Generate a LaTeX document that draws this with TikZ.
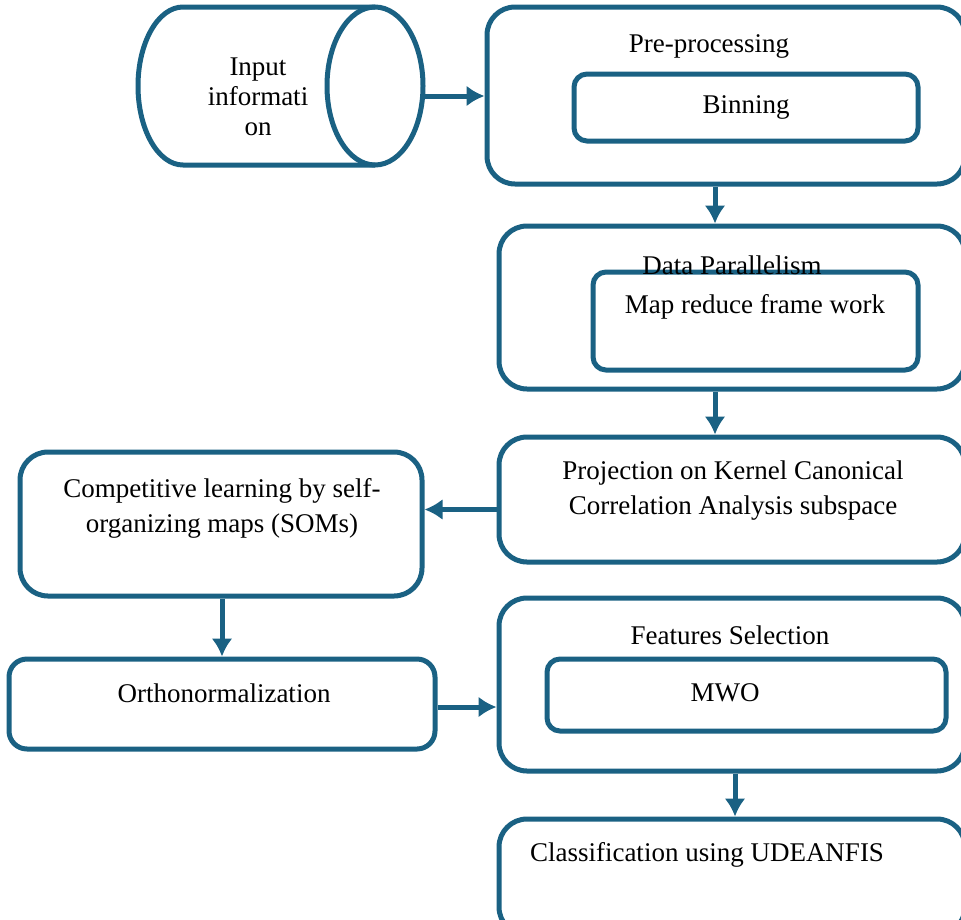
\documentclass[tikz,border=0pt]{standalone}
\usepackage{fontspec}
\setmainfont{Liberation Serif}
\usepackage[rgb]{xcolor}
\usepackage{tikz}
\usetikzlibrary{arrows.meta,positioning}

\definecolor{flowblue}{RGB}{26,97,131}

\begin{document}
\begin{tikzpicture}[x=1pt,y=-1pt,
  outer/.style={draw=flowblue,line width=5pt,rounded corners=28pt,minimum width=466pt},
  inner/.style={draw=flowblue,line width=5pt,rounded corners=13pt},
  txt/.style={font=\fontsize{27}{35}\selectfont,align=center,inner sep=0pt},
  arr/.style={draw=flowblue,line width=5pt,-{Latex[length=18pt,width=21pt]}}]

\useasboundingbox (0,0) rectangle (961,919);

% input store
\draw [flowblue,line width=5pt] (375,7) -- (183,7) arc [start angle=270,end angle=90,x radius=45,y radius=79] -- (375,165);
\draw [flowblue,line width=5pt] (375,86) ellipse [x radius=48,y radius=79];
\coordinate (cylend) at (423,96);
\node [txt,font=\fontsize{27}{30}\selectfont] (cyltxt) at (258,97) {Input\\informati\\on};

% right column
\node [outer,minimum width=478pt,minimum height=177pt] (pre) at (726,95.5) {};
\node [inner,minimum width=344pt,minimum height=67pt] (bin) at (746,107.5) {};
\node [txt] (pretxt) at (709,46) {Pre-processing};
\node [txt] (bintxt) at (746,107) {Binning};

\node [outer,minimum height=163pt] (dp) at (732,307.5) {};
\node [inner,minimum width=325pt,minimum height=98pt] (mr) at (755.5,321) {};
\node [txt] (dptxt) at (732,265) {Data Parallelism};
\node [txt] (mrtxt) at (755,307) {Map reduce frame work};

\node [outer,minimum height=125pt] (proj) at (732,499.5) {};
\node [txt] (projtxt) at (733,491) {Projection on Kernel Canonical\\Correlation Analysis subspace};

\node [outer,minimum height=173pt] (fs) at (732,684.5) {};
\node [inner,minimum width=399pt,minimum height=72pt] (mwo) at (746.5,695) {};
\node [txt] (fstxt) at (730,635) {Features Selection};
\node [txt] (mwotxt) at (725,693) {MWO};

\node [outer,minimum height=116pt] (cls) at (732,877) {};
\node [txt] (clstxt) at (707,855) {Classification using UDEANFIS};

% left column
\node [outer,minimum width=402pt,minimum height=144pt] (som) at (221,524) {};
\node [txt] (somtxt) at (222,508) {Competitive learning by self-\\organizing maps (SOMs)};

\node [inner,rounded corners=18pt,minimum width=426pt,minimum height=90pt] (orth) at (222,704) {};
\node [txt] (orthtxt) at (224,693) {Orthonormalization};

% flow
\draw [arr] (cylend) -- (cylend -| pre.west);
\draw [arr] ([xshift=-11pt]pre.south) -- ([xshift=-11pt]pre.south |- dp.north);
\draw [arr] ([xshift=-17pt]dp.south) -- ([xshift=-17pt]dp.south |- proj.north);
\draw [arr] ([yshift=-10pt]proj.west) -- ([yshift=-10pt]proj.west -| som.east);
\draw [arr] ([xshift=1pt]som.south) -- ([xshift=1pt]som.south |- orth.north);
\draw [arr] ([yshift=-3pt]orth.east) -- ([yshift=-3pt]orth.east -| fs.west);
\draw [arr] ([xshift=3pt]fs.south) -- ([xshift=3pt]fs.south |- cls.north);
\end{tikzpicture}
\end{document}
